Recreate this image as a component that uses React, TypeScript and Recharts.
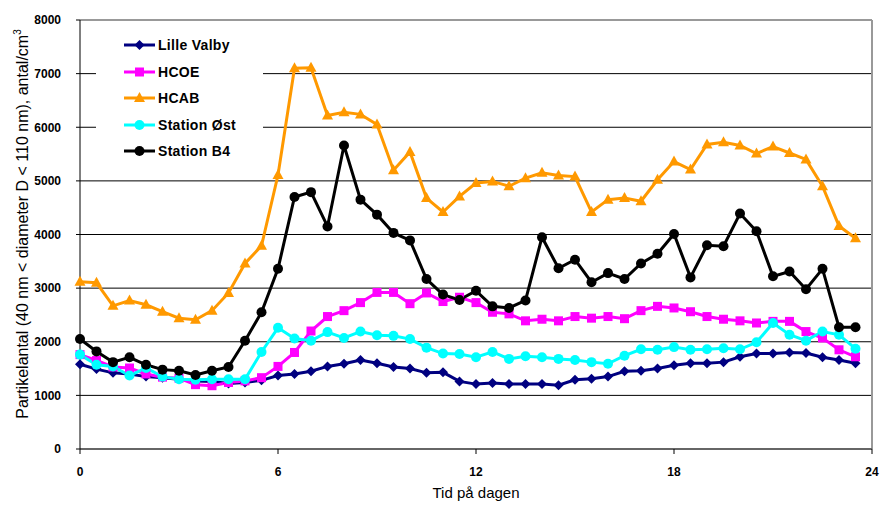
import React from 'react';
import { LineChart, Line, XAxis, YAxis, CartesianGrid, Legend, ReferenceLine, Label } from 'recharts';

const times = [
  0, 0.5, 1, 1.5, 2, 2.5, 3, 3.5, 4, 4.5, 5, 5.5,
  6, 6.5, 7, 7.5, 8, 8.5, 9, 9.5, 10, 10.5, 11, 11.5,
  12, 12.5, 13, 13.5, 14, 14.5, 15, 15.5, 16, 16.5, 17, 17.5,
  18, 18.5, 19, 19.5, 20, 20.5, 21, 21.5, 22, 22.5, 23, 23.5,
];

const lilleValby = [
  1580, 1490, 1420, 1400, 1350, 1330, 1300, 1270, 1260, 1220, 1240, 1280,
  1370, 1400, 1450, 1540, 1590, 1660, 1600, 1530, 1500, 1420, 1430, 1260,
  1210, 1230, 1210, 1210, 1210, 1190, 1290, 1310, 1350, 1450, 1460, 1500,
  1560, 1600, 1600, 1620, 1720, 1780, 1780, 1800, 1790, 1710, 1660, 1600,
];

const hcoe = [
  1760, 1650, 1530, 1510, 1400, 1340, 1320, 1200, 1180, 1240, 1270, 1330,
  1540, 1800, 2200, 2470, 2580, 2730, 2920, 2920, 2710, 2910, 2750, 2830,
  2730, 2550, 2520, 2390, 2420, 2390, 2470, 2440, 2470, 2430, 2580, 2660,
  2630, 2560, 2470, 2420, 2390, 2350, 2380, 2380, 2190, 2070, 1850, 1720,
];

const hcab = [
  3120, 3100, 2670, 2770, 2690, 2560, 2440, 2410, 2580, 2910, 3460, 3790,
  5110, 7100, 7110, 6220, 6280, 6240, 6050, 5200, 5540, 4680, 4420, 4710,
  4960, 4990, 4900, 5050, 5150, 5100, 5080, 4420, 4650, 4680, 4620, 5020,
  5360, 5210, 5680, 5720, 5660, 5510, 5640, 5520, 5400, 4900, 4160, 3930,
];

const stationOst = [
  1760, 1570, 1540, 1370, 1510, 1350, 1300, 1290, 1300, 1300, 1300, 1810,
  2260, 2060, 2020, 2180, 2070, 2190, 2120, 2110, 2050, 1890, 1780, 1770,
  1710, 1810, 1680, 1730, 1710, 1680, 1660, 1620, 1590, 1740, 1860, 1850,
  1900, 1850, 1860, 1880, 1860, 1990, 2350, 2130, 2020, 2190, 2130, 1870,
];

const stationB4 = [
  2050, 1820, 1620, 1710, 1570, 1480, 1460, 1380, 1460, 1530, 2020, 2550,
  3360, 4700, 4790, 4150, 5660, 4650, 4370, 4030, 3890, 3170, 2880, 2780,
  2950, 2660, 2630, 2770, 3950, 3370, 3530, 3110, 3280, 3170, 3460, 3640,
  4010, 3200, 3800, 3780, 4390, 4060, 3220, 3310, 2980, 3360, 2270, 2270,
];

const xTicks = [0, 6, 12, 18, 24];
const yTicks = [0, 1000, 2000, 3000, 4000, 5000, 6000, 7000, 8000];

const data = times.map((t, i) => ({
  t,
  lilleValby: lilleValby[i],
  hcoe: hcoe[i],
  hcab: hcab[i],
  stationOst: stationOst[i],
  stationB4: stationB4[i],
}));

type Shape = 'diamond' | 'square' | 'triangle' | 'circle';

const series: { key: string; name: string; color: string; shape: Shape }[] = [
  { key: 'lilleValby', name: 'Lille Valby', color: '#000080', shape: 'diamond' },
  { key: 'hcoe', name: 'HCOE', color: '#FF00FF', shape: 'square' },
  { key: 'hcab', name: 'HCAB', color: '#FF9900', shape: 'triangle' },
  { key: 'stationOst', name: 'Station Øst', color: '#00FFFF', shape: 'circle' },
  { key: 'stationB4', name: 'Station B4', color: '#000000', shape: 'circle' },
];

const marker = (shape: Shape, color: string, cx: number, cy: number, key?: string | number) => {
  switch (shape) {
    case 'diamond':
      return <polygon key={key} points={`${cx},${cy - 5} ${cx + 5},${cy} ${cx},${cy + 5} ${cx - 5},${cy}`} fill={color} />;
    case 'square':
      return <rect key={key} x={cx - 4.5} y={cy - 4.5} width={9} height={9} fill={color} />;
    case 'triangle':
      return <polygon key={key} points={`${cx},${cy - 6} ${cx + 5.5},${cy + 4} ${cx - 5.5},${cy + 4}`} fill={color} />;
    default:
      return <circle key={key} cx={cx} cy={cy} r={5} fill={color} />;
  }
};

const makeDot = (shape: Shape, color: string) => (props: any) => {
  const { cx, cy, index } = props;
  if (cx == null || cy == null) return <g key={index} />;
  return marker(shape, color, cx, cy, index);
};

const font = '"Liberation Sans", Arial, sans-serif';

const renderLegend = () => (
  <div style={{ paddingTop: 2 }}>
    {series.map(s => (
      <div key={s.key} style={{ height: 26.5, display: 'flex', alignItems: 'center' }}>
        <svg width={62} height={14} style={{ flexShrink: 0 }}>
          <line x1={28} y1={7} x2={59} y2={7} stroke={s.color} strokeWidth={3} />
          {marker(s.shape, s.color, 43.5, 7)}
        </svg>
        <span style={{ fontFamily: font, fontSize: 14, fontWeight: 'bold', color: '#000', letterSpacing: 0.3 }}>
          {s.name}
        </span>
      </div>
    ))}
  </div>
);

export default function App() {
  return (
    <div style={{ position: 'absolute', left: 0, top: 0, width: 882, height: 505, background: '#fff' }}>
      <LineChart
        width={882}
        height={505}
        data={data}
        margin={{ top: 20, right: 10, bottom: 0, left: 0 }}
        style={{ fontFamily: font }}
      >
        <CartesianGrid vertical={false} stroke="#000" strokeWidth={1} />
        <XAxis
          dataKey="t"
          type="number"
          domain={[0, 24]}
          ticks={xTicks}
          height={56}
          tickSize={5}
          tickMargin={13}
          axisLine={{ stroke: '#666', strokeWidth: 2 }}
          tickLine={{ stroke: '#000' }}
          tick={{ fontSize: 12, fontWeight: 'bold', fill: '#000' }}
        >
          <Label
            content={() => (
              <text x={476} y={498} textAnchor="middle" fontSize={15} fill="#000" fontFamily={font}>
                Tid på dagen
              </text>
            )}
          />
        </XAxis>
        <YAxis
          type="number"
          domain={[0, 8000]}
          ticks={yTicks}
          width={80}
          tickSize={4}
          tickMargin={15}
          axisLine={{ stroke: '#000' }}
          tickLine={{ stroke: '#000' }}
          tick={{ fontSize: 12, fontWeight: 'bold', fill: '#000' }}
        >
          <Label
            content={() => (
              <text
                x={28}
                y={224}
                transform="rotate(-90 28 224)"
                textAnchor="middle"
                fontSize={16}
                fill="#000"
                fontFamily={font}
              >
                Partikelantal (40 nm &lt; diameter D &lt; 110 nm), antal/cm
                <tspan dy={-7} fontSize={10}>3</tspan>
              </text>
            )}
          />
        </YAxis>
        <ReferenceLine y={8000} stroke="#999" strokeWidth={2} />
        <ReferenceLine x={24} stroke="#999" strokeWidth={2} />
        <Legend
          layout="vertical"
          align="center"
          verticalAlign="middle"
          content={renderLegend}
          wrapperStyle={{ position: 'absolute', left: 96, top: 30, width: 167, height: 140, background: '#fff' }}
        />
        {series.map(s => (
          <Line
            key={s.key}
            type="linear"
            dataKey={s.key}
            name={s.name}
            stroke={s.color}
            strokeWidth={3}
            dot={makeDot(s.shape, s.color)}
            activeDot={false}
            isAnimationActive={false}
          />
        ))}
      </LineChart>
    </div>
  );
}
